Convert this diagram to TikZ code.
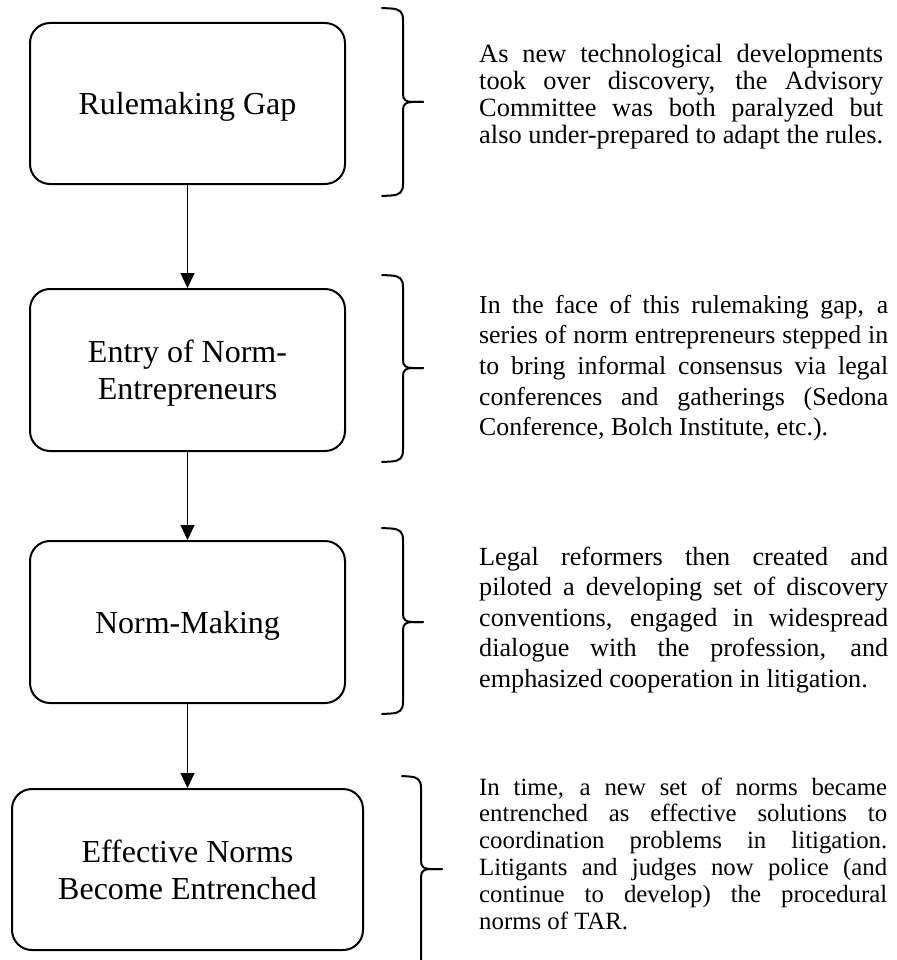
\documentclass[tikz,border=0pt]{standalone}
\usepackage{fontspec}
\setmainfont{Liberation Serif}
\usetikzlibrary{arrows.meta}
\newcommand{\jline}[2]{\hbox to #1{#2}}
\begin{document}
\begin{tikzpicture}[x=1pt,y=-1pt,
  stagebox/.style={draw=black, line width=2pt, rounded corners=20pt, inner sep=0pt,
    align=center, text depth=0pt, font=\fontsize{32}{36.8}\selectfont},
  flowarrow/.style={draw=black, line width=1pt, -{Triangle[length=15pt,width=14pt]}},
  bracepath/.style={draw=black, line width=2pt, line cap=round, line join=round},
  desc/.style={anchor=base west, inner sep=0pt, align=left}
]
\clip (0,0) rectangle (896,960);
\fill[white] (0,0) rectangle (896,960);

% boxes
\node[stagebox, minimum width=315pt, minimum height=161pt] (b1) at (187.5,103.5) {Rulemaking Gap};
\node[stagebox, minimum width=315pt, minimum height=162pt] (b2) at (187.5,370) {Entry of Norm-\\Entrepreneurs};
\node[stagebox, minimum width=315pt, minimum height=162pt] (b3) at (187.5,622) {Norm-Making};
\node[stagebox, minimum width=351pt, minimum height=161pt] (b4) at (187.5,869.5) {Effective Norms\\Become Entrenched};

% arrows
\draw[flowarrow] (b1.south) -- (b2.north);
\draw[flowarrow] (b2.south) -- (b3.north);
\draw[flowarrow] (b3.south) -- (b4.north);

% braces
\foreach \L/\c/\R/\T/\M/\B in {382/403/423/8/102/196, 382/403/423/275/368/462, 382/403/423/528/622/714, 402/421/442/776/869/980}{
  \draw[bracepath] (\L,\T) -- ({\c-12},{\T+0.5}) .. controls ({\c-3},{\T+1}) and (\c,{\T+4}) .. (\c,{\T+12})
    -- (\c,{\M-8}) .. controls (\c,{\M-2}) and ({\c+3},\M) .. ({\c+10},\M) -- (\R,\M);
  \draw[bracepath] (\R,\M) -- ({\c+10},\M) .. controls ({\c+3},\M) and (\c,{\M+2}) .. (\c,{\M+8})
    -- (\c,{\B-12}) .. controls (\c,{\B-4}) and ({\c-3},{\B-1}) .. ({\c-12},{\B-0.5}) -- (\L,\B);
}

% descriptions
\node[desc] (d1) at (479,62.7) {\fontsize{26.4}{27}\selectfont\vtop{\baselineskip=27pt
  \jline{404pt}{As new technological developments}
  \jline{404pt}{took over discovery, the Advisory}
  \jline{404pt}{Committee was both paralyzed but}
  \hbox{also under-prepared to adapt the rules.}}};

\node[desc] (d2) at (479,313) {\fontsize{25.8}{30.7}\selectfont\vtop{\baselineskip=30.7pt
  \jline{409pt}{In the face of this rulemaking gap, a}
  \jline{409pt}{series of norm entrepreneurs stepped in}
  \jline{409pt}{to bring informal consensus via legal}
  \jline{409pt}{conferences and gatherings (Sedona}
  \hbox{Conference, Bolch Institute, etc.).}}};

\node[desc] (d3) at (479,565) {\fontsize{26.2}{30.5}\selectfont\vtop{\baselineskip=30.5pt
  \jline{409pt}{Legal reformers then created and}
  \jline{409pt}{piloted a developing set of discovery}
  \jline{409pt}{conventions, engaged in widespread}
  \jline{409pt}{dialogue with the profession, and}
  \hbox{emphasized cooperation in litigation.}}};

\node[desc] (d4) at (479,795) {\fontsize{24.8}{26.8}\selectfont\vtop{\baselineskip=26.8pt
  \jline{408pt}{In time, a new set of norms became}
  \jline{408pt}{entrenched as effective solutions to}
  \jline{408pt}{coordination problems in litigation.}
  \jline{408pt}{Litigants and judges now police (and}
  \jline{408pt}{continue to develop) the procedural}
  \hbox{norms of TAR.}}};
\end{tikzpicture}
\end{document}
